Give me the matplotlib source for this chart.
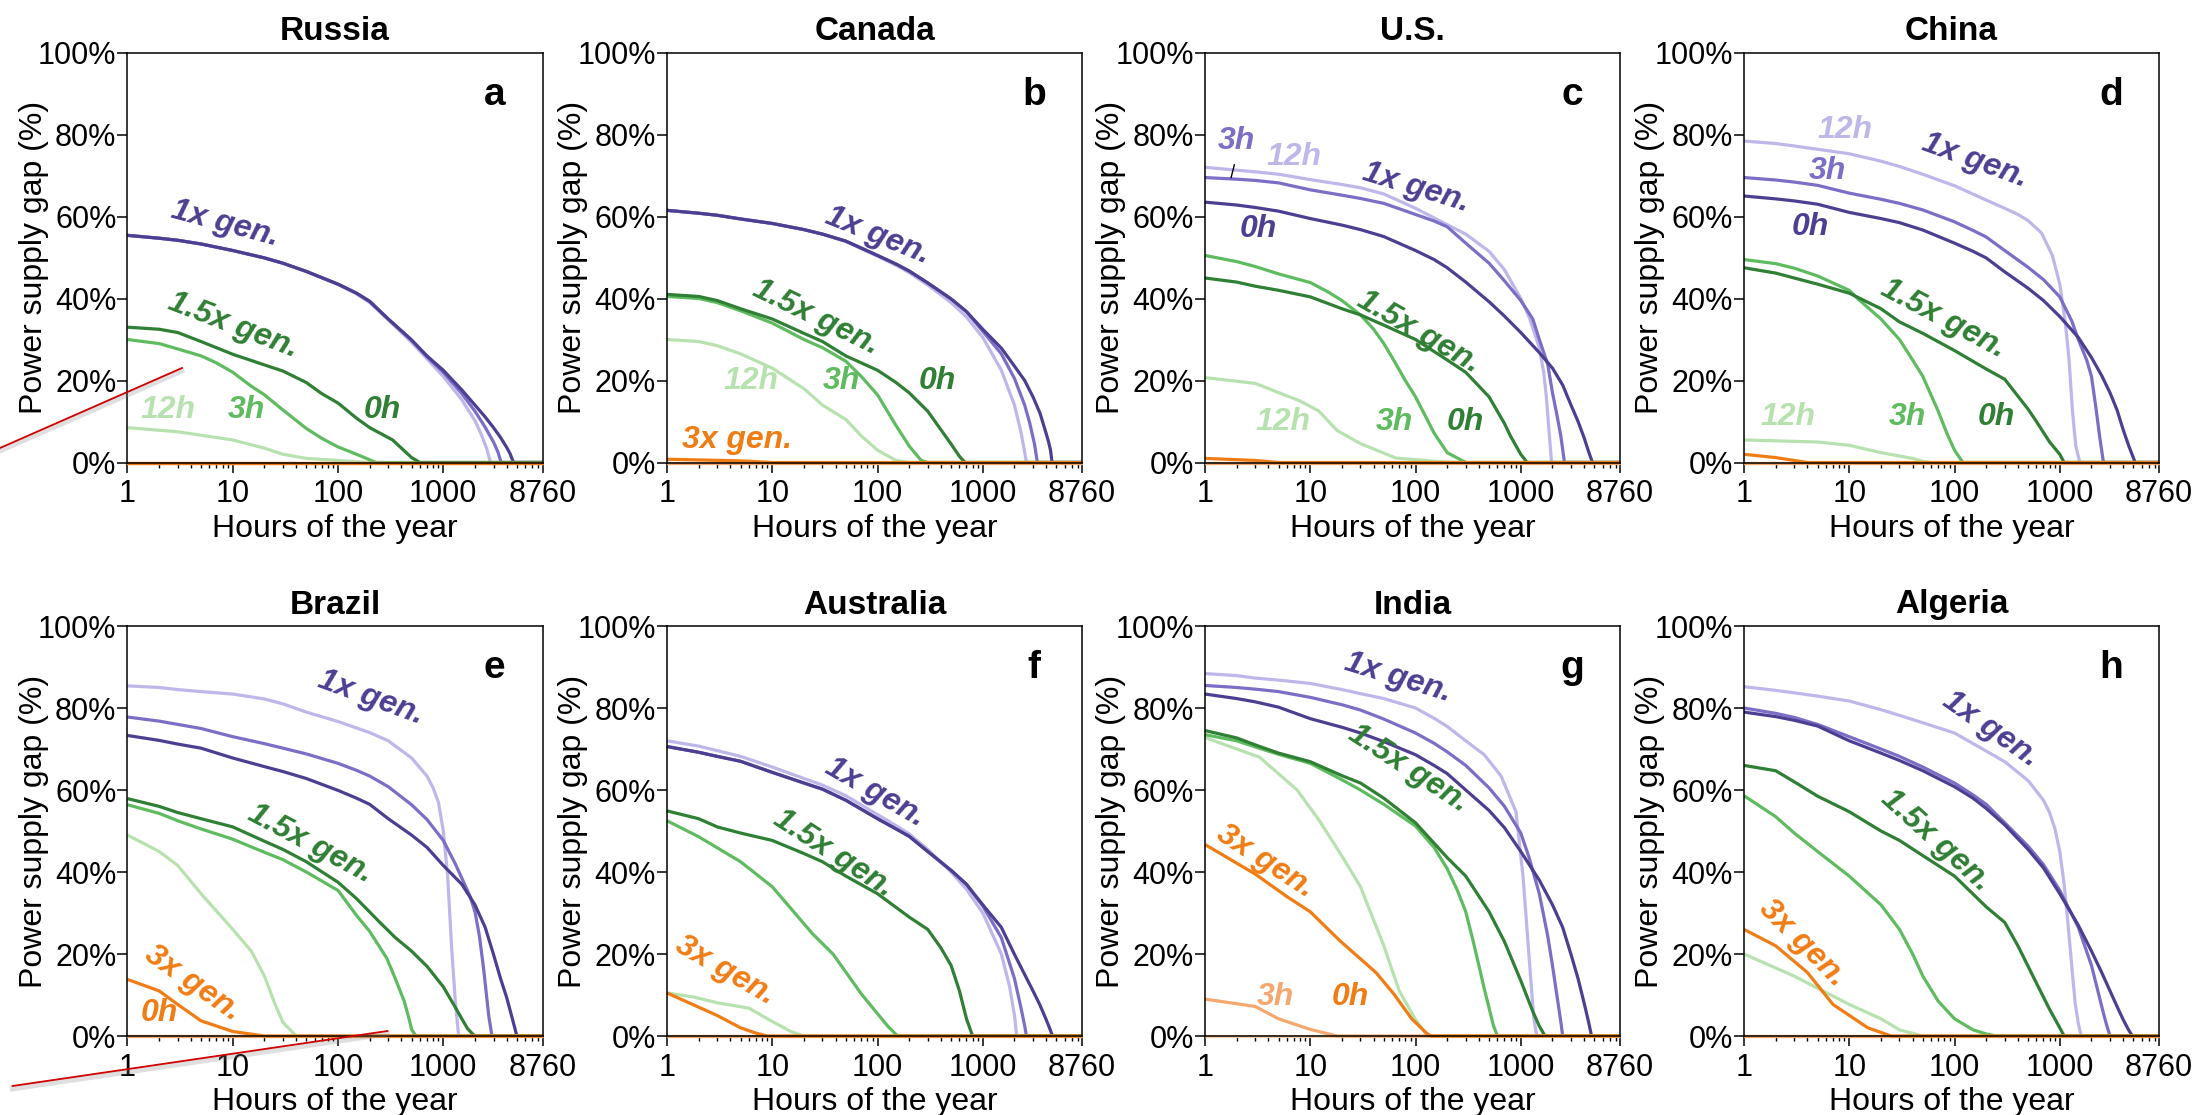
import matplotlib
matplotlib.use('Agg')
import matplotlib.pyplot as plt
from matplotlib.lines import Line2D
from matplotlib.ticker import LogLocator, NullFormatter

plt.rcParams['font.family'] = ['Liberation Sans', 'DejaVu Sans']

# --- data: (hour of the year, power supply gap %) ---
ZERO = [(1, 0), (8760, 0)]

# Russia
RU_1x_0h = [(1, 55.4), (2, 54.7), (3, 54.2), (5, 53.3), (10, 51.7), (20, 49.9), (30, 48.6), (50, 46.6), (100, 43.5), (150, 41.3), (200, 39.3), (300, 35), (500, 29.9), (700, 26), (1000, 22.5), (1500, 17.7), (2000, 14), (2500, 11.1), (3000, 8.5), (3500, 6.1), (4000, 3.7), (4300, 2.2), (4650, 0)]
RU_1x_3h = [(1, 55.4), (2, 54.7), (3, 54.2), (5, 53.3), (10, 51.7), (20, 49.9), (30, 48.6), (50, 46.6), (100, 43.5), (150, 41.3), (200, 39.3), (300, 35), (500, 29.8), (700, 25.8), (1000, 22), (1500, 16.8), (2000, 12.5), (2500, 8.6), (3000, 5), (3300, 2.6), (3550, 0)]
RU_1x_12h = [(1, 55.4), (2, 54.7), (3, 54.2), (5, 53.3), (10, 51.7), (20, 49.9), (30, 48.6), (50, 46.6), (100, 43.4), (150, 41.1), (200, 39), (300, 34.8), (500, 29.3), (700, 25.3), (1000, 21), (1500, 15.3), (2000, 10.2), (2300, 6.8), (2600, 3.2), (2800, 0)]
RU_15x_0h = [(1, 33), (2, 32.5), (3, 31.7), (5, 29.5), (10, 26.4), (20, 23.8), (30, 22.3), (50, 19.5), (70, 16.8), (100, 14.5), (150, 10.8), (200, 8.5), (330, 5.5), (400, 3.5), (500, 1.2), (600, 0)]
RU_15x_3h = [(1, 30), (2, 29), (3, 27.7), (5, 26), (7, 24.3), (10, 22), (15, 18.6), (20, 16.5), (30, 12.8), (50, 8.3), (70, 5.9), (100, 3.8), (150, 2), (230, 0)]
RU_15x_12h = [(1, 8.5), (3, 7.5), (10, 5.5), (20, 3.5), (30, 2), (50, 1), (100, 0.5), (200, 0)]

# Canada
CA_1x_0h = [(1, 61.5), (2, 60.8), (3, 60.3), (5, 59.4), (10, 58.3), (20, 56.8), (30, 55.7), (50, 54), (100, 50.5), (150, 48.4), (200, 46.7), (300, 43.8), (500, 39.9), (700, 36.8), (1000, 32.5), (1500, 27.9), (2000, 23.5), (2500, 20), (3000, 16), (3500, 12), (3900, 8), (4200, 5.2), (4400, 3), (4550, 0)]
CA_1x_3h = [(1, 61.5), (2, 60.8), (3, 60.3), (5, 59.4), (10, 58.3), (20, 56.8), (30, 55.7), (50, 54), (100, 50.5), (150, 48.4), (200, 46.7), (300, 43.8), (500, 39.9), (700, 36.8), (1000, 32), (1500, 26.5), (2000, 20.5), (2500, 14), (2800, 9.5), (3100, 4.5), (3300, 0)]
CA_1x_12h = [(1, 61.5), (2, 60.8), (3, 60.3), (5, 59.4), (10, 58.3), (20, 56.8), (30, 55.7), (50, 53.9), (100, 50.3), (150, 48.1), (200, 46.3), (300, 43.3), (500, 39), (700, 35.5), (1000, 30.5), (1500, 22.5), (2000, 14), (2300, 7.5), (2500, 2.5), (2600, 0)]
CA_15x_0h = [(1, 41), (2, 40.5), (3, 39.5), (5, 37.5), (10, 35), (20, 31.5), (30, 29.5), (50, 26), (100, 22.5), (150, 19.5), (200, 17), (300, 12.5), (400, 8), (500, 4.5), (600, 1.5), (680, 0)]
CA_15x_3h = [(1, 40.5), (2, 40), (3, 39), (5, 37), (10, 34), (20, 30), (30, 28), (50, 24.7), (70, 21), (100, 16.5), (150, 9), (200, 4), (260, 0.5), (300, 0)]
CA_15x_12h = [(1, 30), (2, 29.5), (3, 28.5), (5, 26.5), (10, 23), (20, 18), (30, 14), (50, 10.5), (70, 6.5), (100, 3), (150, 0.5), (200, 0)]
CA_3x_0h = [(1, 0.8), (5, 0.4), (10, 0)]

# U.S.
US_1x_0h = [(1, 63.5), (2, 62.8), (3, 62.2), (5, 61.3), (10, 59.5), (20, 57.9), (30, 56.8), (50, 55.1), (100, 51.7), (150, 49.5), (200, 47.5), (300, 44), (500, 39.2), (700, 35.7), (1000, 31.7), (1500, 26.8), (2000, 23), (2500, 18.9), (3000, 14), (3500, 10), (4000, 6), (4400, 2.7), (4800, 0)]
US_1x_3h = [(1, 69.5), (2, 69.1), (3, 68.8), (5, 68.2), (10, 66.5), (20, 65.2), (30, 64.4), (50, 63.2), (100, 60.5), (150, 58.9), (200, 57.5), (300, 53.5), (500, 48.6), (700, 44.3), (1000, 39.5), (1300, 35), (1500, 30), (1800, 24), (2000, 17), (2200, 11.7), (2400, 6.5), (2600, 0)]
US_1x_12h = [(1, 72), (2, 71.3), (3, 70.9), (5, 70.3), (10, 69), (20, 67.8), (30, 67), (50, 65.5), (100, 62), (200, 58), (300, 55.7), (500, 51.5), (700, 47), (1000, 40), (1200, 35.5), (1500, 28), (1650, 22), (1750, 16), (1850, 8), (1960, 0)]
US_15x_0h = [(1, 45), (2, 44), (3, 43), (5, 42), (10, 40.4), (20, 37.5), (30, 36), (50, 33.5), (100, 30), (200, 25), (300, 22), (500, 16), (700, 9.5), (800, 6.4), (1000, 2), (1150, 0)]
US_15x_3h = [(1, 50.5), (2, 49), (3, 47.8), (5, 46), (10, 43.9), (15, 41.5), (20, 39.5), (30, 36), (40, 32.5), (50, 29), (60, 25.6), (80, 20), (100, 16), (150, 7.2), (200, 2.4), (300, 0)]
US_15x_12h = [(1, 20.7), (3, 19.3), (8, 15), (12, 12.6), (18, 7.8), (30, 4.6), (65, 1.1), (150, 0.3), (250, 0)]
US_3x_0h = [(1, 1), (3, 0.5), (5, 0)]

# China
CN_1x_0h = [(1, 65), (2, 64.3), (3, 63.8), (5, 63), (10, 61), (20, 59.5), (30, 58.5), (50, 56.7), (100, 53.5), (150, 51.5), (200, 49.9), (300, 46.5), (500, 42.5), (700, 39.5), (1000, 35.6), (1500, 30.5), (2000, 25.6), (2500, 21.2), (3000, 17), (3500, 12.8), (4000, 8), (4500, 4.2), (5200, 0)]
CN_1x_3h = [(1, 69.5), (2, 68.9), (3, 68.4), (5, 67.6), (10, 65.7), (20, 64.2), (30, 63.2), (50, 61.6), (100, 58.7), (150, 56.6), (200, 55), (300, 51.7), (500, 47.6), (700, 44.6), (1000, 40.4), (1300, 34.5), (1500, 30), (1800, 25), (2000, 21), (2200, 13.5), (2400, 6), (2600, 0)]
CN_1x_12h = [(1, 78.4), (2, 77.8), (3, 77.2), (5, 76.4), (10, 75.3), (20, 73.5), (30, 72.2), (50, 70.3), (100, 67.5), (200, 64), (300, 62), (400, 60.5), (500, 59), (670, 56), (850, 50.5), (1000, 43.5), (1130, 34), (1220, 25.6), (1320, 12.5), (1420, 4), (1550, 0)]
CN_15x_0h = [(1, 47.5), (2, 46.2), (3, 45), (5, 43.5), (10, 41.3), (20, 37.5), (30, 34.3), (50, 31.5), (100, 27.3), (200, 22.8), (300, 20.3), (500, 13), (600, 10), (800, 5), (1000, 2), (1100, 0)]
CN_15x_3h = [(1, 49.5), (2, 48.5), (3, 47.4), (5, 45.5), (10, 42), (12, 40), (15, 37.8), (20, 35), (30, 30), (40, 25), (50, 21), (70, 12.5), (85, 7), (100, 3), (120, 0)]
CN_15x_12h = [(1, 5.5), (5, 5), (10, 4.2), (20, 2.4), (40, 1), (50, 0.3), (60, 0)]
CN_3x_0h = [(1, 2), (2, 1.2), (4, 0)]

# Brazil
BR_1x_0h = [(1, 73.3), (2, 72.1), (3, 71.2), (5, 70.2), (10, 67.8), (20, 65.7), (30, 64.5), (50, 62.8), (100, 59.9), (150, 58), (200, 56.5), (300, 53), (500, 49), (700, 46), (1000, 41.6), (1500, 37), (2000, 32), (2500, 26.5), (3000, 19.9), (3500, 14), (4000, 9.4), (4500, 4.5), (5000, 0)]
BR_1x_3h = [(1, 77.8), (2, 76.8), (3, 76), (5, 75), (10, 73), (20, 71.3), (30, 70.2), (50, 68.8), (100, 66.5), (150, 64.8), (200, 63.4), (300, 60.8), (500, 56.4), (700, 52.8), (1000, 47.7), (1300, 42), (1500, 38.5), (1800, 34), (2000, 30.3), (2200, 24.5), (2400, 17), (2500, 12.9), (2700, 5), (2900, 0)]
BR_1x_12h = [(1, 85.4), (2, 85), (3, 84.5), (5, 84), (10, 83.4), (20, 82.2), (30, 81), (50, 79), (100, 76.7), (200, 74), (300, 72), (500, 67.8), (700, 63.4), (800, 60.5), (900, 57), (1000, 50), (1100, 39), (1200, 21.6), (1300, 8.5), (1400, 0)]
BR_15x_0h = [(1, 57.9), (2, 56), (3, 54.5), (5, 53), (10, 51), (20, 47.5), (30, 45.5), (50, 42.5), (100, 37.5), (150, 33.5), (250, 27.7), (350, 24), (500, 20.7), (700, 17), (1000, 12), (1300, 7), (1500, 4.2), (1700, 1.8), (1900, 0.5), (2000, 0)]
BR_15x_3h = [(1, 56.4), (2, 54.3), (3, 52.5), (5, 50.5), (10, 48), (20, 44.8), (30, 43), (50, 40), (100, 35.5), (150, 29.4), (200, 25.5), (290, 19), (350, 14), (425, 8.5), (475, 4), (500, 1.6), (550, 0)]
BR_15x_12h = [(1, 49), (2, 45), (3, 41.6), (5, 34.7), (10, 26), (15, 20.7), (20, 14.6), (25, 8), (30, 3.3), (40, 0)]
BR_3x_0h = [(1, 13.8), (2, 11), (3, 7.7), (5, 3.7), (10, 1.1), (20, 0)]

# Australia
AU_1x_0h = [(1, 70.6), (2, 69.2), (3, 68.2), (5, 67), (10, 64.3), (20, 61.7), (30, 60.2), (50, 57.5), (100, 53), (150, 50.5), (200, 48.7), (300, 45), (500, 40.4), (700, 37), (1000, 32), (1500, 26.5), (2000, 19.9), (2500, 15), (3000, 11), (3500, 7.5), (4000, 4), (4300, 2), (4600, 0)]
AU_1x_3h = [(1, 70.6), (2, 69.2), (3, 68.2), (5, 67), (10, 64.3), (20, 61.7), (30, 60.2), (50, 57.5), (100, 53), (150, 50.5), (200, 48.7), (300, 45), (500, 40.4), (700, 37), (1000, 31.7), (1500, 24), (2000, 14), (2300, 7), (2500, 2.5), (2600, 0)]
AU_1x_12h = [(1, 72), (2, 70.7), (3, 69.6), (5, 68.2), (10, 65.6), (20, 62.8), (30, 61.2), (50, 58.6), (100, 54), (150, 51.3), (200, 49.3), (300, 45.5), (500, 40), (700, 35.8), (1000, 30), (1500, 20), (1800, 12), (2000, 5), (2100, 0)]
AU_15x_0h = [(1, 54.9), (2, 53), (3, 51), (5, 49.5), (10, 47.7), (20, 44.5), (30, 42.5), (50, 39), (100, 34.7), (200, 29), (300, 26), (400, 21.5), (500, 17.2), (600, 11), (700, 4.2), (800, 0)]
AU_15x_3h = [(1, 52.5), (2, 48.6), (5, 42.5), (10, 36.4), (24, 25), (38, 19.9), (70, 10.3), (125, 2.4), (155, 0)]
AU_15x_12h = [(1, 10.5), (1.8, 9.5), (3, 8.1), (6, 6.8), (9, 4.2), (15, 1.1), (20, 0)]
AU_3x_0h = [(1, 10.5), (3, 5), (5, 2), (7, 0.7), (9, 0)]

# India
IN_1x_0h = [(1, 83.4), (2, 82.3), (3, 81.5), (5, 80.2), (10, 77.4), (20, 75.3), (30, 73.9), (50, 71.8), (100, 68.6), (150, 66), (200, 64), (300, 60), (500, 55), (700, 50.8), (1000, 45), (1500, 38), (2000, 32), (2500, 26.5), (3000, 19.9), (3500, 14), (4000, 8), (4400, 3.5), (4700, 0)]
IN_1x_3h = [(1, 85.5), (2, 85), (3, 84.6), (5, 84), (10, 82.6), (20, 80.8), (30, 79.5), (50, 77.3), (100, 73.9), (150, 71.4), (200, 69.3), (300, 66), (500, 60.5), (700, 56), (1000, 49.5), (1200, 43.5), (1500, 34.7), (1800, 24.5), (2000, 17.2), (2200, 10), (2400, 3.5), (2500, 0)]
IN_1x_12h = [(1, 88.4), (2, 87.9), (3, 87.3), (5, 86.8), (10, 86), (20, 84.5), (30, 83.5), (50, 82.3), (100, 80), (150, 77.5), (200, 75.5), (300, 72), (450, 68.6), (650, 63.4), (900, 54.7), (1050, 39), (1180, 21.6), (1330, 4.2), (1420, 0)]
IN_15x_0h = [(1, 74.5), (2, 72.7), (3, 71), (5, 69), (10, 66.9), (20, 63.5), (30, 61.7), (50, 58), (100, 52), (200, 43.5), (300, 39), (500, 30.3), (700, 23), (1000, 13.5), (1300, 6), (1500, 2.4), (1700, 0)]
IN_15x_3h = [(1, 73.5), (2, 72), (3, 70.5), (5, 68.7), (10, 66.5), (20, 62.5), (30, 60), (50, 56.5), (100, 51.2), (150, 46), (200, 40.8), (250, 35.5), (300, 30.3), (350, 23.5), (400, 17.2), (450, 11.5), (500, 6.8), (550, 2.5), (600, 0)]
IN_15x_12h = [(1, 72.8), (3.3, 68), (7.5, 60), (12, 52.8), (19, 44.8), (30, 36.4), (50, 22), (70, 11), (100, 4), (130, 0)]
IN_3x_0h = [(1, 46.7), (3, 39.5), (6, 34), (10, 30.3), (19, 23.3), (42, 15.5), (62, 10.3), (92, 4.2), (127, 0.7), (140, 0)]
IN_3x_3h = [(1, 9), (3, 7.2), (5, 4.2), (10, 1.6), (18, 0)]

# Algeria
DZ_1x_0h = [(1, 79), (2, 77.9), (3, 77), (5, 75.6), (10, 72), (20, 69), (30, 67.2), (50, 64.7), (100, 60.8), (150, 58), (200, 55.5), (300, 51.5), (500, 45.5), (700, 41), (1000, 34.7), (1500, 27), (2000, 20.7), (2500, 15.5), (3000, 11), (3500, 7.2), (4000, 4), (4500, 1.5), (4900, 0)]
DZ_1x_3h = [(1, 80), (2, 78.7), (3, 77.7), (5, 76), (10, 73), (20, 70), (30, 68.2), (50, 65.6), (100, 61.7), (150, 58.8), (200, 56.5), (300, 52), (500, 46.3), (700, 41.8), (1000, 35.5), (1500, 26.5), (2000, 17.2), (2300, 11), (2600, 5.5), (2800, 2.5), (3000, 0)]
DZ_1x_12h = [(1, 85.2), (2, 84.3), (3, 83.7), (5, 82.9), (10, 81.7), (20, 79.6), (30, 78.2), (50, 76.4), (100, 73.9), (200, 69.5), (300, 66.9), (500, 62.3), (700, 57.5), (800, 54.5), (900, 50.5), (1000, 45), (1100, 37), (1200, 27), (1300, 17), (1400, 8), (1500, 3), (1600, 0)]
DZ_15x_0h = [(1, 66), (2, 64.7), (3, 62), (5, 58.5), (10, 54.7), (20, 50), (30, 47.7), (50, 44), (100, 39), (200, 31.5), (300, 27.7), (400, 22), (600, 12.9), (800, 6.5), (1000, 2), (1100, 0)]
DZ_15x_3h = [(1, 58.6), (2, 53.5), (3, 49.5), (5, 45), (10, 39), (20, 32), (30, 26), (40, 20), (50, 14.6), (70, 8.5), (100, 4.2), (150, 1.5), (200, 0.5), (250, 0)]
DZ_15x_12h = [(1, 20), (3, 14.6), (10, 7.7), (20, 4.2), (30, 1.5), (50, 0)]
DZ_3x_0h = [(1, 26), (2, 22), (4, 15.5), (7, 7.7), (15, 2), (25, 0)]

COUNTRIES = ['Russia', 'Canada', 'U.S.', 'China', 'Brazil', 'Australia', 'India', 'Algeria']
LETTERS = ['a', 'b', 'c', 'd', 'e', 'f', 'g', 'h']

# series per panel in drawing order: (generation, storage, points)
SERIES = [
    [('1x', '12h', RU_1x_12h), ('1x', '3h', RU_1x_3h), ('1x', '0h', RU_1x_0h),
     ('1.5x', '12h', RU_15x_12h), ('1.5x', '3h', RU_15x_3h), ('1.5x', '0h', RU_15x_0h),
     ('3x', '12h', ZERO), ('3x', '3h', ZERO), ('3x', '0h', ZERO)],
    [('1x', '12h', CA_1x_12h), ('1x', '3h', CA_1x_3h), ('1x', '0h', CA_1x_0h),
     ('1.5x', '12h', CA_15x_12h), ('1.5x', '3h', CA_15x_3h), ('1.5x', '0h', CA_15x_0h),
     ('3x', '12h', ZERO), ('3x', '3h', ZERO), ('3x', '0h', CA_3x_0h)],
    [('1x', '12h', US_1x_12h), ('1x', '3h', US_1x_3h), ('1x', '0h', US_1x_0h),
     ('1.5x', '12h', US_15x_12h), ('1.5x', '3h', US_15x_3h), ('1.5x', '0h', US_15x_0h),
     ('3x', '12h', ZERO), ('3x', '3h', ZERO), ('3x', '0h', US_3x_0h)],
    [('1x', '12h', CN_1x_12h), ('1x', '3h', CN_1x_3h), ('1x', '0h', CN_1x_0h),
     ('1.5x', '12h', CN_15x_12h), ('1.5x', '3h', CN_15x_3h), ('1.5x', '0h', CN_15x_0h),
     ('3x', '12h', ZERO), ('3x', '3h', ZERO), ('3x', '0h', CN_3x_0h)],
    [('1x', '12h', BR_1x_12h), ('1x', '3h', BR_1x_3h), ('1x', '0h', BR_1x_0h),
     ('1.5x', '12h', BR_15x_12h), ('1.5x', '3h', BR_15x_3h), ('1.5x', '0h', BR_15x_0h),
     ('3x', '12h', ZERO), ('3x', '3h', ZERO), ('3x', '0h', BR_3x_0h)],
    [('1x', '12h', AU_1x_12h), ('1x', '3h', AU_1x_3h), ('1x', '0h', AU_1x_0h),
     ('1.5x', '12h', AU_15x_12h), ('1.5x', '3h', AU_15x_3h), ('1.5x', '0h', AU_15x_0h),
     ('3x', '12h', ZERO), ('3x', '3h', ZERO), ('3x', '0h', AU_3x_0h)],
    [('1x', '12h', IN_1x_12h), ('1x', '3h', IN_1x_3h), ('1x', '0h', IN_1x_0h),
     ('1.5x', '12h', IN_15x_12h), ('1.5x', '3h', IN_15x_3h), ('1.5x', '0h', IN_15x_0h),
     ('3x', '12h', ZERO), ('3x', '3h', IN_3x_3h), ('3x', '0h', IN_3x_0h)],
    [('1x', '12h', DZ_1x_12h), ('1x', '3h', DZ_1x_3h), ('1x', '0h', DZ_1x_0h),
     ('1.5x', '12h', DZ_15x_12h), ('1.5x', '3h', DZ_15x_3h), ('1.5x', '0h', DZ_15x_0h),
     ('3x', '12h', ZERO), ('3x', '3h', ZERO), ('3x', '0h', DZ_3x_0h)],
]

X_TICKS = [1, 10, 100, 1000, 8760]
Y_TICKS = [0, 20, 40, 60, 80, 100]

COLORS = {
    '1x': {'0h': '#4e3e92', '3h': '#7a6ec6', '12h': '#bdb7ea'},
    '1.5x': {'0h': '#2f7f34', '3h': '#5fbb5f', '12h': '#b7e2af'},
    '3x': {'0h': '#f07c14', '3h': '#f4a870', '12h': '#f9cfa9'},
}

# curve labels: (text, hour, gap, rotation, generation, storage)
LABELS = [
    [('1x gen.', 8.5, 58.3, -15, '1x', '0h'), ('1.5x gen.', 10, 33.4, -21, '1.5x', '0h'),
     ('12h', 2.4, 12.9, 0, '1.5x', '12h'), ('3h', 13.6, 12.9, 0, '1.5x', '3h'), ('0h', 266, 12.9, 0, '1.5x', '0h')],
    [('1x gen.', 100, 55.2, -22, '1x', '0h'), ('1.5x gen.', 26, 35.3, -26, '1.5x', '0h'),
     ('12h', 6.3, 19.9, 0, '1.5x', '12h'), ('3h', 45, 19.9, 0, '1.5x', '3h'), ('0h', 370, 19.9, 0, '1.5x', '0h'),
     ('3x gen.', 4.6, 5.5, 0, '3x', '0h')],
    [('3h', 2.0, 78.4, 0, '1x', '3h'), ('12h', 7, 74.4, 0, '1x', '12h'), ('1x gen.', 100, 67, -17, '1x', '0h'),
     ('0h', 3.2, 57, 0, '1x', '0h'), ('1.5x gen.', 108, 31.7, -30, '1.5x', '0h'),
     ('12h', 5.5, 9.9, 0, '1.5x', '12h'), ('3h', 63, 9.9, 0, '1.5x', '3h'), ('0h', 300, 9.9, 0, '1.5x', '0h')],
    [('12h', 9.2, 81, 0, '1x', '12h'), ('1x gen.', 155, 73.6, -20, '1x', '0h'), ('3h', 6.2, 71, 0, '1x', '3h'),
     ('0h', 4.3, 57.4, 0, '1x', '0h'), ('1.5x gen.', 79, 35, -28, '1.5x', '0h'),
     ('12h', 2.6, 11, 0, '1.5x', '12h'), ('3h', 36, 11, 0, '1.5x', '3h'), ('0h', 250, 11, 0, '1.5x', '0h')],
    [('1x gen.', 203, 82.6, -20, '1x', '0h'), ('1.5x gen.', 55, 46.9, -28, '1.5x', '0h'),
     ('3x gen.', 4.2, 12.9, -35, '3x', '0h'), ('0h', 2.0, 5.5, 0, '3x', '0h')],
    [('1x gen.', 94, 59.5, -30, '1x', '0h'), ('1.5x gen.', 38, 44.5, -33, '1.5x', '0h'),
     ('3x gen.', 3.6, 15.9, -30, '3x', '0h')],
    [('1x gen.', 68, 87.4, -17, '1x', '0h'), ('1.5x gen.', 85, 65.2, -33, '1.5x', '0h'),
     ('3x gen.', 3.7, 42.5, -33, '3x', '0h'), ('3h', 4.7, 9.4, 0, '3x', '3h'), ('0h', 24, 9.4, 0, '3x', '0h')],
    [('1x gen.', 220, 74.7, -35, '1x', '0h'), ('1.5x gen.', 67, 47.7, -42, '1.5x', '0h'),
     ('3x gen.', 3.6, 22.5, -45, '3x', '0h')],
]

W, H = 2204, 1115


def add_axes(fig, left, top, width, height):
    return fig.add_axes([left / W, 1 - (top + height) / H, width / W, height / H])


def draw_panel(ax, title, letter, series, labels):
    for gen, storage, pts in series:
        xs = [p[0] for p in pts]
        ys = [p[1] for p in pts]
        if ys[-1] == 0 and xs[-1] < 8760:
            xs.append(8760)
            ys.append(0)
        ax.plot(xs, ys, color=COLORS[gen][storage], lw=2.3, clip_on=False,
                solid_capstyle='butt', solid_joinstyle='round')
    for text, hx, gy, rot, gen, storage in labels:
        ax.text(hx, gy, text, rotation=rot, ha='center', va='center', rotation_mode='anchor',
                fontsize=23, fontweight='bold', fontstyle='italic', color=COLORS[gen][storage])

    ax.set_xscale('log')
    ax.set_xlim(1, 8760)
    ax.set_ylim(0, 100)
    ax.set_xticks(X_TICKS)
    ax.set_xticklabels([str(t) for t in X_TICKS])
    ax.xaxis.set_minor_locator(LogLocator(base=10, subs=range(2, 10), numticks=20))
    ax.xaxis.set_minor_formatter(NullFormatter())
    ax.set_yticks(Y_TICKS)
    ax.set_yticklabels(['%d%%' % t for t in Y_TICKS])
    ax.tick_params(axis='both', which='major', direction='out', length=7, width=1.1, labelsize=22, color='black')
    ax.tick_params(axis='x', which='major', pad=5)
    ax.tick_params(axis='y', which='major', pad=1)
    ax.tick_params(axis='x', which='minor', direction='out', length=3.5, width=1.0)
    ax.tick_params(top=False, right=False)
    for sp in ax.spines.values():
        sp.set_linewidth(1.1)

    ax.set_title(title, fontsize=24, fontweight='bold', pad=9)
    ax.set_xlabel('Hours of the year', fontsize=23)
    ax.xaxis.set_label_coords(0.5, -0.125)
    ax.set_ylabel('Power supply gap (%)', fontsize=23)
    ax.yaxis.set_label_coords(-0.19, 0.5)
    ax.text(0.885, 0.897, letter, transform=ax.transAxes, ha='center', va='center',
            fontsize=28, fontweight='bold')


def red_line(fig, x0, y0, x1, y1):
    # shadow then the red stroke, given in figure pixels
    fig.add_artist(Line2D([x0 / W, x1 / W], [1 - (y0 + 3) / H, 1 - (y1 + 3) / H],
                          transform=fig.transFigure, color='gray', alpha=0.25, lw=3.5))
    fig.add_artist(Line2D([x0 / W, x1 / W], [1 - y0 / H, 1 - y1 / H],
                          transform=fig.transFigure, color='#d00000', lw=1.3))


def main():
    fig = plt.figure(figsize=(22.04, 11.15), dpi=100)
    lefts = [127.5, 667, 1205, 1744]
    tops = [52.5, 626]
    for i, name in enumerate(COUNTRIES):
        ax = add_axes(fig, lefts[i % 4], tops[i // 4], 415, 410)
        draw_panel(ax, name, LETTERS[i], SERIES[i], LABELS[i])
        if name == 'U.S.':
            ax.plot([1.9, 1.77], [72.6, 69.5], color='black', lw=1)

    red_line(fig, 0, 448, 182, 368)
    red_line(fig, 12.5, 1086, 387.5, 1031)

    fig.savefig('out.png', dpi=100)


if __name__ == '__main__':
    main()
